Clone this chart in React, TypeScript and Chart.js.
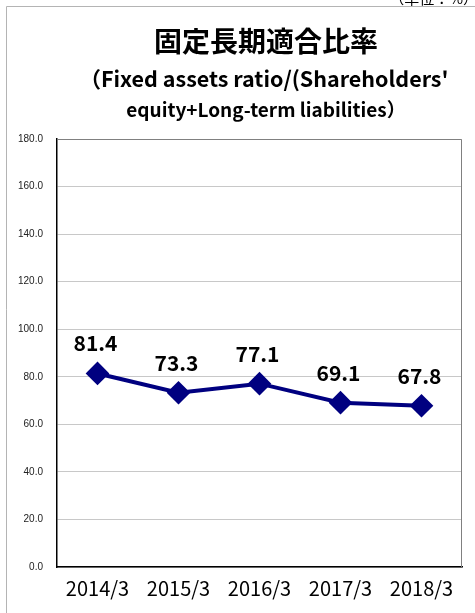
import React, { useEffect, useRef } from "react";
import { Chart, registerables } from "chart.js";

Chart.register(...registerables);

const categories = ["2014/3", "2015/3", "2016/3", "2017/3", "2018/3"];
const ratioValues = [81.4, 73.3, 77.1, 69.1, 67.8];
const yTicks = [0, 20, 40, 60, 80, 100, 120, 140, 160, 180];
const titleText = "固定長期適合比率";
const subtitleLine1 = "（Fixed assets ratio/(Shareholders'";
const subtitleLine2 = "equity+Long-term liabilities）";
const unitText = "（単位：%）";

const W = 475;
const H = 613;

const decorPlugin = {
  id: "decor",
  beforeDraw(chart: any) {
    const ctx = chart.ctx;
    ctx.save();
    ctx.fillStyle = "#ffffff";
    ctx.fillRect(0, 0, W, H);
    ctx.strokeStyle = "#b4b4b4";
    ctx.lineWidth = 1;
    ctx.beginPath();
    ctx.moveTo(6.5, H);
    ctx.lineTo(6.5, 6.5);
    ctx.lineTo(W, 6.5);
    ctx.stroke();
    ctx.restore();
  },
  afterDraw(chart: any) {
    const ctx = chart.ctx;
    const a = chart.chartArea;
    ctx.save();
    // plot area top/right border
    ctx.strokeStyle = "#808080";
    ctx.lineWidth = 1;
    ctx.beginPath();
    ctx.moveTo(a.left, a.top + 0.5);
    ctx.lineTo(a.right - 0.5, a.top + 0.5);
    ctx.lineTo(a.right - 0.5, a.bottom);
    ctx.stroke();
    // texts
    ctx.fillStyle = "#000";
    ctx.textAlign = "center";
    ctx.textBaseline = "alphabetic";
    ctx.font = "bold 28px 'Noto Sans CJK JP'";
    ctx.fillText(titleText, 266, 52);
    ctx.font = "bold 21.5px 'Noto Sans CJK JP'";
    ctx.fillText(subtitleLine1, 264, 87);
    ctx.font = "bold 19px 'Noto Sans CJK JP'";
    ctx.fillText(subtitleLine2, 266, 117);
    ctx.font = "15px 'Noto Sans CJK JP'";
    ctx.textAlign = "right";
    ctx.fillText(unitText, 478, 4);
    // data labels
    const meta = chart.getDatasetMeta(0);
    ctx.font = "bold 21px 'Noto Sans CJK JP'";
    ctx.textAlign = "center";
    meta.data.forEach((pt: any, i: number) => {
      ctx.fillText(ratioValues[i].toFixed(1), pt.x - 2, pt.y - 22);
    });
    ctx.restore();
  },
};

export default function App() {
  const ref = useRef<HTMLCanvasElement>(null);
  useEffect(() => {
    if (!ref.current) return;
    const chart = new Chart(ref.current, {
      type: "line",
      data: {
        labels: categories,
        datasets: [
          {
            data: ratioValues,
            borderColor: "#000080",
            backgroundColor: "#000080",
            borderWidth: 4,
            pointStyle: "rectRot",
            pointRadius: 9,
            pointHoverRadius: 9,
            tension: 0,
          },
        ],
      },
      options: {
        responsive: false,
        animation: false,
        events: [],
        layout: { padding: { left: 0, top: 139, right: 12, bottom: 0 } },
        plugins: {
          legend: { display: false },
          title: { display: false },
          tooltip: { enabled: false },
        },
        scales: {
          x: {
            offset: true,
            grid: { display: false },
            border: { color: "#000", width: 1.5 },
            ticks: {
              color: "#000",
              font: { family: "'Noto Sans CJK JP'", size: 20 },
              padding: 1,
              maxRotation: 0,
            },
            afterFit(scale: any) {
              scale.height = 46;
            },
          },
          y: {
            min: 0,
            max: 180,
            afterBuildTicks(scale: any) {
              scale.ticks = yTicks.map((v) => ({ value: v }));
            },
            grid: { color: "#c8c8c8", lineWidth: 1, drawTicks: false },
            border: { color: "#000", width: 1.5 },
            ticks: {
              color: "#222",
              font: { family: "'Liberation Sans', Arial", size: 10 },
              padding: 14,
              callback: (v: any) => Number(v).toFixed(1),
            },
            afterFit(scale: any) {
              scale.width = 57;
            },
          },
        },
      },
      plugins: [decorPlugin],
    });
    return () => chart.destroy();
  }, []);
  return (
    <div style={{ position: "fixed", left: 0, top: 0, width: W, height: H, background: "#fff" }}>
      <canvas ref={ref} width={W} height={H} style={{ display: "block" }} />
    </div>
  );
}
